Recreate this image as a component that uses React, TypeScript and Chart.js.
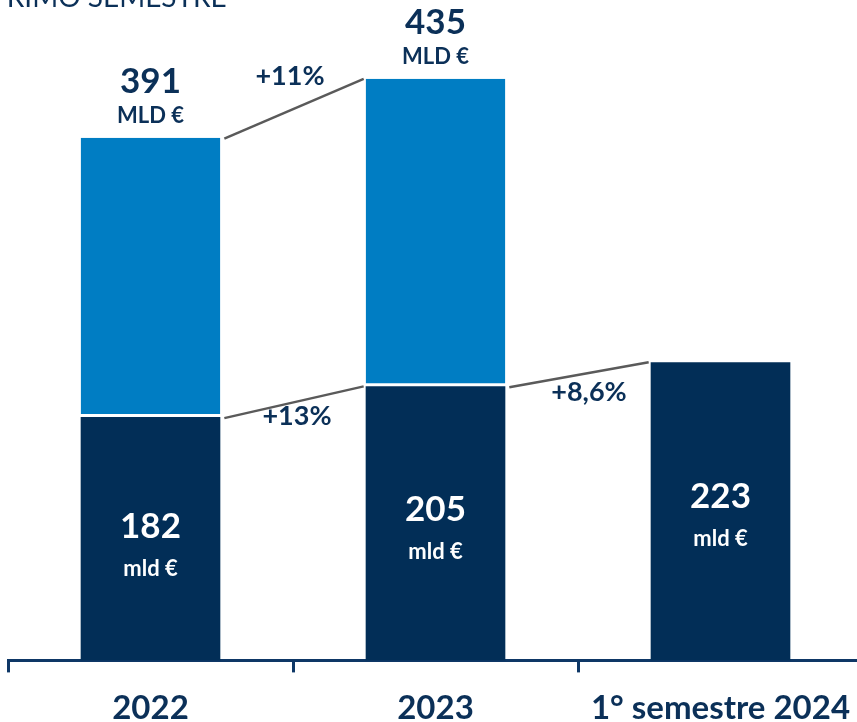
import React, { useEffect, useRef } from "react";
import { Chart, registerables } from "chart.js";

Chart.register(...registerables);

const categories = ["2022", "2023", "1° semestre 2024"];
const baseValues = [182, 205, 223];
const upperValues = [209, 230, null];
const growthLabels = ["+11%", "+13%", "+8,6%"];
const unitUpper = "MLD €";
const unitLower = "mld €";
const titleText = "PRIMO SEMESTRE";

const NAVY = "#022e57";
const BLUE = "#007dc3";
const TEXT = "#0b3058";
const FONT = 'Lato, "Open Sans", sans-serif';

const annotPlugin = {
  id: "annot",
  afterDatasetsDraw(chart: any) {
    const ctx = chart.ctx;
    const yScale = chart.scales.y;
    const bot = chart.getDatasetMeta(0).data.map((e: any) => e.getProps(["x", "y", "base", "width"], true));
    const top = chart.getDatasetMeta(1).data.map((e: any) => e.getProps(["x", "y", "base", "width"], true));

    ctx.save();
    ctx.strokeStyle = "#5a5a5a";
    ctx.lineWidth = 2.5;
    const seg = (a: any, b: any) => {
      const x1 = a.x + a.width / 2 + 4;
      const y1 = a.y + 1;
      const x2 = b.x - b.width / 2 - 2;
      const y2 = b.y;
      ctx.beginPath();
      ctx.moveTo(x1, y1);
      ctx.lineTo(x2, y2);
      ctx.stroke();
      return { x: (x1 + x2) / 2, y: (y1 + y2) / 2 };
    };
    const m1 = seg(top[0], top[1]);
    const m2 = seg(bot[0], bot[1]);
    const m3 = seg(bot[1], bot[2]);

    ctx.textAlign = "center";
    ctx.textBaseline = "middle";
    ctx.fillStyle = TEXT;
    ctx.font = `bold 27px ${FONT}`;
    ctx.fillText(growthLabels[0], m1.x - 4, m1.y - 32);
    ctx.fillText(growthLabels[1], m2.x + 3, m2.y + 14);
    ctx.fillText(growthLabels[2], m3.x + 10, m3.y + 17);

    upperValues.forEach((u, i) => {
      if (u == null) return;
      const total = baseValues[i] + u;
      const t = top[i];
      ctx.fillStyle = TEXT;
      ctx.font = `bold 35px ${FONT}`;
      ctx.fillText(String(total), t.x, t.y - 56);
      ctx.font = `bold 22px ${FONT}`;
      ctx.fillText(unitUpper, t.x, t.y - 22);
    });

    baseValues.forEach((v, i) => {
      const b = bot[i];
      const cy = yScale.getPixelForValue(v * 0.55);
      ctx.fillStyle = "#ffffff";
      ctx.font = `bold 35px ${FONT}`;
      ctx.fillText(String(v), b.x, cy);
      ctx.font = `bold 22px ${FONT}`;
      ctx.fillText(unitLower, b.x, cy + 42);
    });
    ctx.restore();
  },
};

export default function App() {
  const ref = useRef<HTMLCanvasElement | null>(null);

  useEffect(() => {
    if (!ref.current) return;
    const chart = new Chart(ref.current, {
      type: "bar",
      data: {
        labels: categories,
        datasets: [
          {
            data: baseValues,
            backgroundColor: NAVY,
            borderWidth: 0,
            barPercentage: 1,
            categoryPercentage: 0.49,
          },
          {
            data: upperValues as any,
            backgroundColor: BLUE,
            borderColor: "#ffffff",
            borderWidth: { top: 0, left: 0, right: 0, bottom: 3 } as any,
            borderSkipped: false,
            barPercentage: 1,
            categoryPercentage: 0.49,
          },
        ],
      },
      options: {
        responsive: false,
        animation: false,
        layout: { padding: { left: 8, right: 5, top: 0, bottom: 4 } },
        plugins: {
          legend: { display: false },
          tooltip: { enabled: false },
          title: { display: false },
        },
        scales: {
          x: {
            stacked: true,
            offset: true,
            border: { display: true, color: "#0e3766", width: 3 },
            grid: {
              display: true,
              offset: true,
              drawOnChartArea: false,
              drawTicks: true,
              tickLength: 12,
              tickWidth: 3,
              tickColor: "#0e3766",
              color: "#0e3766",
            },
            ticks: {
              color: TEXT,
              font: { family: FONT, weight: "bold", size: 33 },
              padding: 16,
              maxRotation: 0,
              autoSkip: false,
            },
          },
          y: {
            stacked: true,
            display: false,
            min: 0,
            max: 494,
          },
        },
      },
      plugins: [annotPlugin],
    });
    return () => chart.destroy();
  }, []);

  return (
    <div
      style={{
        position: "absolute",
        left: 0,
        top: 0,
        width: 857,
        height: 722,
        overflow: "hidden",
        background: "#ffffff",
      }}
    >
      <canvas ref={ref} width={868} height={748} style={{ position: "absolute", left: 0, top: 0 }} />
      <div
        style={{
          position: "absolute",
          left: -10,
          top: -21,
          fontFamily: FONT,
          fontSize: 28,
          color: TEXT,
          whiteSpace: "nowrap",
          lineHeight: "34px",
        }}
      >
        {titleText}
      </div>
    </div>
  );
}
